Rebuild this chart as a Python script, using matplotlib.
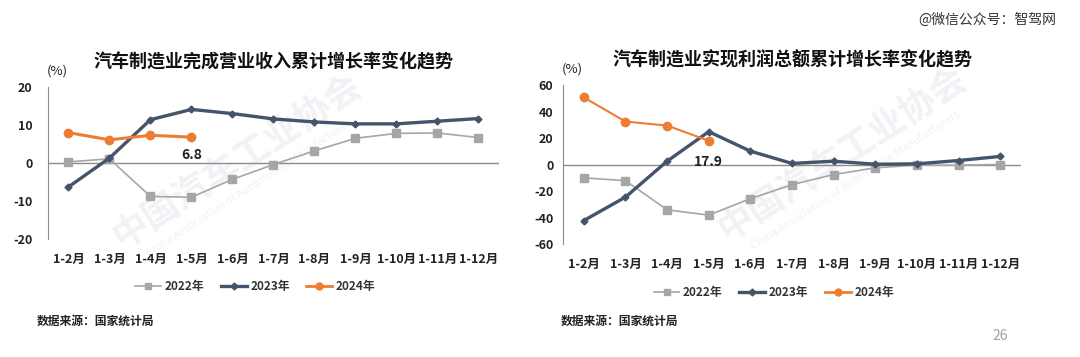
import numpy as np
import matplotlib
matplotlib.use("Agg")
import matplotlib.pyplot as plt
from matplotlib.lines import Line2D

plt.rcParams["font.family"] = ["Noto Sans CJK SC", "DejaVu Sans"]
plt.rcParams["axes.unicode_minus"] = False

months = ["1-2月", "1-3月", "1-4月", "1-5月", "1-6月", "1-7月",
          "1-8月", "1-9月", "1-10月", "1-11月", "1-12月"]

# 营业收入累计增长率 (%)
rev_2022 = [0.3, 1.1, -8.8, -9.0, -4.3, -0.4, 3.2, 6.5, 7.8, 7.9, 6.7]
rev_2023 = [-6.3, 1.3, 11.4, 14.1, 13.0, 11.6, 10.8, 10.3, 10.3, 11.0, 11.7]
rev_2024 = [8.0, 6.1, 7.3, 6.8]

# 利润总额累计增长率 (%)
prof_2022 = [-10.1, -12.2, -34.2, -38.2, -25.8, -15.2, -7.6, -2.5, -0.5, -0.5, 0.0]
prof_2023 = [-42.3, -24.6, 2.5, 24.8, 10.1, 0.8, 2.5, 0.2, 0.5, 3.0, 6.1]
prof_2024 = [50.6, 32.4, 29.4, 17.9]

C22 = "#A6A6A6"
C23 = "#44546A"
C24 = "#ED7D31"
WM = "#F0F2F5"

fig = plt.figure(figsize=(10.8, 3.57), dpi=100, facecolor="white")


def watermark(x, y):
    fig.text(x, y, "中国汽车工业协会", fontsize=26, color=WM, rotation=33,
             ha="center", va="center", fontweight="bold", zorder=0)
    fig.text(x + 0.012, y - 0.075, "China Association of Automobile Manufacturers",
             fontsize=8, color=WM, rotation=33, ha="center", va="center", zorder=0)


watermark(0.22, 0.55)
watermark(0.78, 0.57)


def panel(rect, title, s22, s23, s24, lim, step, lbl_off, lw24, ypad):
    ax = fig.add_axes(rect)
    ax.set_zorder(2)
    ax.patch.set_alpha(0)
    x = np.arange(len(months))
    ax.plot(x, s22, color=C22, lw=1.2, marker="s", ms=6, zorder=3)
    ax.plot(x, s23, color=C23, lw=2.4, marker="D", ms=3.5, zorder=4)
    x24 = np.arange(len(s24))
    ax.plot(x24, s24, color=C24, lw=lw24, marker="o", ms=6, zorder=5)
    ax.annotate(f"{s24[-1]:.1f}", (x24[-1], s24[-1]), xytext=(0, lbl_off),
                textcoords="offset points", ha="center", va="center",
                fontsize=10, fontweight="bold", color="#222222")
    ax.axhline(0, color="#8C8C8C", lw=1.0, zorder=2)
    ax.set_xlim(-0.5, len(months) - 0.5)
    ax.set_ylim(-lim, lim)
    ax.set_yticks(np.arange(-lim, lim + 1, step))
    ax.set_xticks(x)
    ax.set_xticklabels(months)
    for sp in ("top", "right", "bottom"):
        ax.spines[sp].set_visible(False)
    ax.spines["left"].set_color("#8C8C8C")
    ax.tick_params(axis="both", length=0, labelsize=9, colors="#222222")
    ax.tick_params(axis="x", pad=10)
    ax.tick_params(axis="y", pad=ypad)
    for t in ax.get_xticklabels() + ax.get_yticklabels():
        t.set_fontweight("bold")
    ax.text(0.02, 1.06, "(%)", transform=ax.transAxes, ha="center",
            va="bottom", fontsize=9.5, color="#222222")
    ax.set_title(title, fontsize=13, fontweight="black", pad=14, color="#111111")
    handles = [
        Line2D([], [], color=C22, lw=1.2, marker="s", ms=5),
        Line2D([], [], color=C23, lw=2.4, marker="D", ms=3.5),
        Line2D([], [], color=C24, lw=2.0, marker="o", ms=5),
    ]
    leg = ax.legend(handles, ["2022年", "2023年", "2024年"], loc="upper center",
                    bbox_to_anchor=(0.46, -0.2), ncol=3, frameon=False,
                    fontsize=8.5, handlelength=2.2, columnspacing=1.4,
                    handletextpad=0.3)
    for t in leg.get_texts():
        t.set_fontweight("bold")
        t.set_color("#333333")
    return ax


panel([0.0444, 0.3305, 0.4176, 0.4258], "汽车制造业完成营业收入累计增长率变化趋势",
      rev_2022, rev_2023, rev_2024, 20, 10, -13, 2.2, 11)
panel([0.5213, 0.3165, 0.4241, 0.4454], "汽车制造业实现利润总额累计增长率变化趋势",
      prof_2022, prof_2023, prof_2024, 60, 20, -15, 1.5, 7)

fig.text(0.034, 0.10, "数据来源：国家统计局", fontsize=8.5, fontweight="bold",
         color="#222222", va="center")
fig.text(0.519, 0.10, "数据来源：国家统计局", fontsize=8.5, fontweight="bold",
         color="#222222", va="center")
fig.text(0.919, 0.06, "26", fontsize=10, color="#A0A0A0", va="center")
fig.text(0.978, 0.945, "@微信公众号：智驾网", fontsize=10, color="#333333",
         ha="right", va="center")

fig.savefig("out.png", dpi=100, facecolor="white")
